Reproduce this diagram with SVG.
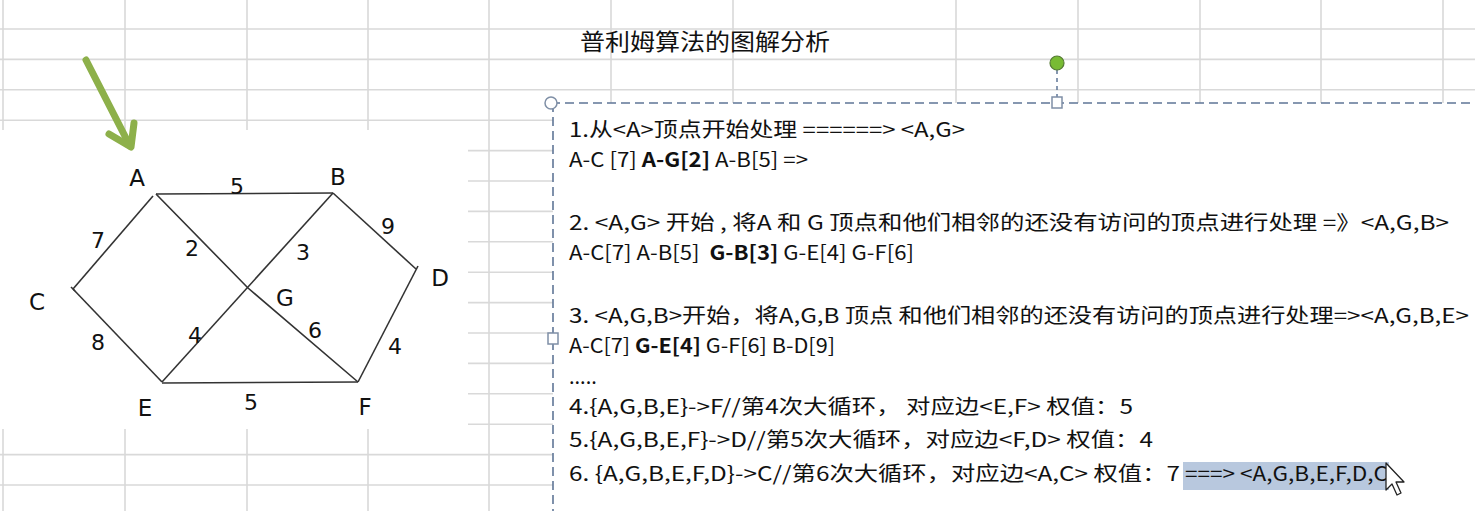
<svg xmlns="http://www.w3.org/2000/svg" width="1475" height="511" viewBox="0 0 1475 511">
<defs>
<style>
.grid line{stroke:#d9d9d9;stroke-width:1.6}
.edge{stroke:#333;stroke-width:1.6;fill:none}
.lbl{font-family:"DejaVu Sans","Liberation Sans",sans-serif;font-size:23px;fill:#111;text-anchor:middle;dominant-baseline:central}
.wt{font-family:"DejaVu Sans","Liberation Sans",sans-serif;font-size:22px;fill:#111;text-anchor:middle;dominant-baseline:central}
.tx{font-family:"Noto Sans CJK SC","Noto Sans CJK JP",sans-serif;font-size:20px;fill:#111;white-space:pre}
.b{font-weight:bold}
.hd{fill:#fff;stroke:#7f8fa6;stroke-width:1.5}
</style>
</defs>
<rect width="1475" height="511" fill="#fff"/>
<g class="grid" id="grid">
<line x1="0" y1="29" x2="1475" y2="29"/>
<line x1="0" y1="59.4" x2="1475" y2="59.4"/>
<line x1="0" y1="89.8" x2="1475" y2="89.8"/>
<line x1="0" y1="120.2" x2="1475" y2="120.2"/>
<line x1="0" y1="150.6" x2="1475" y2="150.6"/>
<line x1="0" y1="181" x2="1475" y2="181"/>
<line x1="0" y1="211.4" x2="1475" y2="211.4"/>
<line x1="0" y1="241.8" x2="1475" y2="241.8"/>
<line x1="0" y1="272.2" x2="1475" y2="272.2"/>
<line x1="0" y1="302.6" x2="1475" y2="302.6"/>
<line x1="0" y1="333" x2="1475" y2="333"/>
<line x1="0" y1="363.4" x2="1475" y2="363.4"/>
<line x1="0" y1="393.8" x2="1475" y2="393.8"/>
<line x1="0" y1="424.2" x2="1475" y2="424.2"/>
<line x1="0" y1="454.6" x2="1475" y2="454.6"/>
<line x1="0" y1="485" x2="1475" y2="485"/>
<line x1="3" y1="0" x2="3" y2="511"/>
<line x1="125" y1="0" x2="125" y2="511"/>
<line x1="247" y1="0" x2="247" y2="511"/>
<line x1="368" y1="0" x2="368" y2="511"/>
<line x1="489" y1="0" x2="489" y2="511"/>
<line x1="611" y1="0" x2="611" y2="511"/>
<line x1="733" y1="0" x2="733" y2="511"/>
<line x1="956" y1="0" x2="956" y2="511"/>
<line x1="1078" y1="0" x2="1078" y2="511"/>
<line x1="1200" y1="0" x2="1200" y2="511"/>
<line x1="1321" y1="0" x2="1321" y2="511"/>
<line x1="1443" y1="0" x2="1443" y2="511"/>
</g>
<text x="462" y="393" font-family="Liberation Serif,serif" font-size="16" fill="#d8d8d8" text-anchor="middle" dominant-baseline="central">h</text>
<rect id="graph-bg" x="0" y="130" width="468" height="299" fill="#fff"/>
<text id="title" x="580" y="50" font-family="Noto Sans CJK SC,sans-serif" font-size="23" fill="#111" textLength="250" lengthAdjust="spacingAndGlyphs">普利姆算法的图解分析</text>
<g id="start-arrow" stroke="#8db04a" stroke-width="7" stroke-linecap="round" stroke-linejoin="round" fill="none">
<line x1="86" y1="60" x2="130" y2="146"/>
<polyline points="109,134 131,147 134,123"/>
</g>
<g id="connectors">
<line class="edge" x1="156" y1="194" x2="333" y2="193"/>
<line class="edge" x1="153" y1="196" x2="73" y2="289"/>
<line class="edge" x1="73" y1="289" x2="162" y2="382"/>
<polyline class="edge" points="156,194 248,288 358,382"/>
<line class="edge" x1="333" y1="193" x2="162" y2="382"/>
<line class="edge" x1="333" y1="193" x2="416" y2="269"/>
<line class="edge" x1="418" y1="266" x2="358" y2="382"/>
<line class="edge" x1="162" y1="383" x2="358" y2="382"/>
<line class="edge" x1="71" y1="287" x2="75" y2="291"/>
<g id="weights">
<text class="wt" x="237" y="186">5</text>
<text class="wt" x="388" y="226">9</text>
<text class="wt" x="98" y="240">7</text>
<text class="wt" x="192" y="248">2</text>
<text class="wt" x="303" y="252">3</text>
<text class="wt" x="98" y="342">8</text>
<text class="wt" x="195" y="335">4</text>
<text class="wt" x="315" y="330">6</text>
<text class="wt" x="395" y="346">4</text>
<text class="wt" x="251" y="402">5</text>
</g>
</g>
<g id="node-A"><text class="lbl" x="137" y="178">A</text></g>
<g id="node-B"><text class="lbl" x="338" y="177">B</text></g>
<g id="node-C"><text class="lbl" x="37" y="302">C</text></g>
<g id="node-D"><text class="lbl" x="440" y="278">D</text></g>
<g id="node-G"><text class="lbl" x="285" y="298">G</text></g>
<g id="node-E"><text class="lbl" x="145" y="408">E</text></g>
<g id="node-F"><text class="lbl" x="365" y="407">F</text></g>
<g id="textbox">
<rect x="553" y="103" width="930" height="420" fill="#fff"/>
<line x1="551" y1="103" x2="1475" y2="103" stroke="#5f7696" stroke-width="1.6" stroke-dasharray="9,5"/>
<line x1="553" y1="103" x2="553" y2="511" stroke="#5f7696" stroke-width="1.6" stroke-dasharray="9,5"/>
<line x1="1057" y1="70" x2="1057" y2="98" stroke="#5f7696" stroke-width="1.5" stroke-dasharray="4,4"/>
<circle cx="551" cy="103" r="6" class="hd"/>
<rect x="1052" y="97" width="10" height="11" class="hd"/>
<rect x="548" y="333" width="10" height="11" class="hd"/>
<circle cx="1057" cy="63" r="7" fill="#78bb33" stroke="#557a34" stroke-width="1.2"/>
<rect x="1183" y="462" width="206" height="28" fill="#b8c8de"/>
<text class="tx" x="569" y="137" textLength="396" lengthAdjust="spacingAndGlyphs">1.从&lt;A&gt;顶点开始处理 ======&gt; &lt;A,G&gt;</text>
<text class="tx" x="569" y="167" textLength="239" lengthAdjust="spacingAndGlyphs">A-C [7] <tspan class="b">A-G[2]</tspan> A-B[5] =&gt;</text>
<text class="tx" x="569" y="230" textLength="880" lengthAdjust="spacingAndGlyphs">2. &lt;A,G&gt; 开始 , 将A 和 G 顶点和他们相邻的还没有访问的顶点进行处理 =》&lt;A,G,B&gt;</text>
<text class="tx" x="569" y="260" textLength="345" lengthAdjust="spacingAndGlyphs">A-C[7] A-B[5]  <tspan class="b">G-B[3]</tspan> G-E[4] G-F[6]</text>
<text class="tx" x="569" y="323" textLength="900" lengthAdjust="spacingAndGlyphs">3. &lt;A,G,B&gt;开始，将A,G,B 顶点 和他们相邻的还没有访问的顶点进行处理=&gt;&lt;A,G,B,E&gt;</text>
<text class="tx" x="569" y="353" textLength="266" lengthAdjust="spacingAndGlyphs">A-C[7] <tspan class="b">G-E[4]</tspan> G-F[6] B-D[9]</text>
<text class="tx" x="569" y="384">.....</text>
<text class="tx" x="569" y="414" textLength="564" lengthAdjust="spacingAndGlyphs">4.{A,G,B,E}-&gt;F//第4次大循环， 对应边&lt;E,F&gt; 权值：5</text>
<text class="tx" x="569" y="447" textLength="584" lengthAdjust="spacingAndGlyphs">5.{A,G,B,E,F}-&gt;D//第5次大循环，对应边&lt;F,D&gt; 权值：4</text>
<text class="tx" x="569" y="481" textLength="611" lengthAdjust="spacingAndGlyphs">6. {A,G,B,E,F,D}-&gt;C//第6次大循环，对应边&lt;A,C&gt; 权值：7</text>
<text class="tx" x="1185" y="481" textLength="203" lengthAdjust="spacingAndGlyphs" fill="#1c2b44">===&gt; &lt;A,G,B,E,F,D,C</text>
<path id="cursor" d="M1386,463 L1386,490 L1392,484 L1397,495 L1401,493 L1396,482 L1404,482 Z" fill="#fff" stroke="#222" stroke-width="1.3" stroke-linejoin="round"/>
</g>
</svg>
